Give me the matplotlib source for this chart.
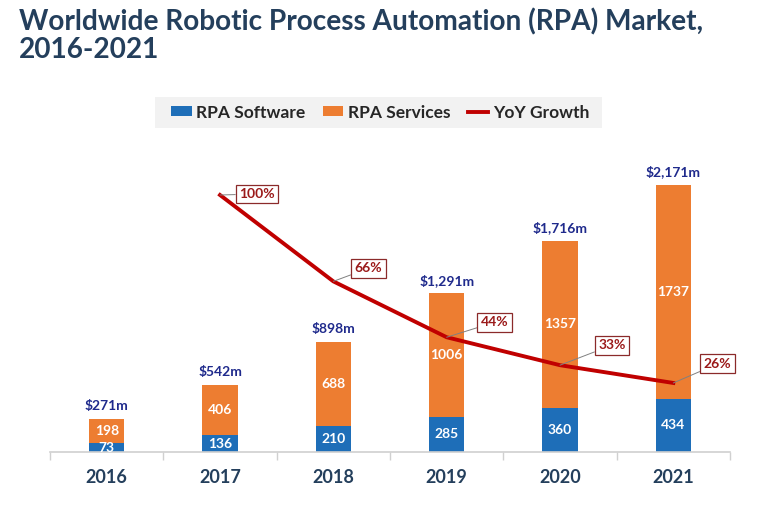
import numpy as np
import matplotlib.pyplot as plt
from matplotlib.patches import Rectangle

years = ['2016', '2017', '2018', '2019', '2020', '2021']
software = [73, 136, 210, 285, 360, 434]
services = [198, 406, 688, 1006, 1357, 1737]
totals = ['$271m', '$542m', '$898m', '$1,291m', '$1,716m', '$2,171m']
growth_years = ['2017', '2018', '2019', '2020', '2021']
growth = [100, 66, 44, 33, 26]
# label box offsets (pixels) for the growth callouts
growth_offsets = [(37, 1), (35, 13), (48, 15), (52, 20), (44, 19)]

blue = '#1E6EB8'
orange = '#ED7D31'
red = '#C00000'
navy = '#1F2A8C'
title_col = '#243F5C'
font = 'Lato'

W, H = 766, 505
fig = plt.figure(figsize=(W / 100, H / 100), dpi=100)
plt.rcParams['font.family'] = font

# axes placed in pixel terms
left, right, bottom, top = 50, 730, 452, 165
ax = fig.add_axes([left / W, 1 - bottom / H, (right - left) / W, (bottom - top) / H])

x = np.arange(len(years))
bw = 0.31
ax.bar(x, software, bw, color=blue, label='RPA Software')
ax.bar(x, services, bw, bottom=software, color=orange, label='RPA Services')

px_per_unit = 267 / 2171
ax.set_ylim(0, (bottom - top) / px_per_unit)
ax.set_xlim(-0.5, 5.5)

for i in range(len(years)):
    ax.text(x[i], software[i] / 2, str(software[i]), ha='center', va='center',
            color='white', fontsize=10, fontweight='bold')
    ax.text(x[i], software[i] + services[i] / 2, str(services[i]), ha='center', va='center',
            color='white', fontsize=10, fontweight='bold')
    ax.annotate(totals[i], (x[i], software[i] + services[i]), xytext=(0, 13),
                textcoords='offset pixels', ha='center', va='center',
                color=navy, fontsize=10, fontweight='bold')

ax.spines[['top', 'right', 'left']].set_visible(False)
ax.spines['bottom'].set_color('#D0D0D0')
ax.spines['bottom'].set_linewidth(1.2)
ax.set_yticks([])
ax.set_xticks(x)
ax.set_xticklabels(years, fontsize=13, fontweight='bold', color=title_col)
ax.tick_params(axis='x', length=0, pad=12)
ax.set_xticks(np.arange(-0.5, 6, 1), minor=True)
ax.tick_params(axis='x', which='minor', length=6, color='#D0D0D0', width=1)

# growth line on a second axis
ax2 = ax.twinx()
ax2.set_ylim(-3 / 2.54, (449 - top) / 2.54)
ax2.set_xlim(-0.5, 5.5)
gx = [years.index(y) for y in growth_years]
ax2.plot(gx, growth, color=red, lw=2.8, label='YoY Growth')
for xi, g, off in zip(gx, growth, growth_offsets):
    ax2.annotate(f'{g}%', (xi, g), xytext=off, textcoords='offset pixels',
                 ha='center', va='center', color='#9B1A1A', fontsize=10, fontweight='bold',
                 bbox=dict(boxstyle='square,pad=0.25', fc='white', ec='#8B2A2A', lw=0.9),
                 arrowprops=dict(arrowstyle='-', color='#808080', lw=0.7, shrinkA=0, shrinkB=0))
ax2.axis('off')

# legend with a grey band behind it
fig.patches.append(Rectangle((155 / W, 1 - 128 / H), (602 - 155) / W, 31 / H,
                             transform=fig.transFigure, fc='#F2F2F2', ec='none', zorder=0))
h1, l1 = ax.get_legend_handles_labels()
h2, l2 = ax2.get_legend_handles_labels()
leg = fig.legend(h1 + h2, l1 + l2, loc='center', bbox_to_anchor=(380 / W, 1 - 112.5 / H),
                 ncol=3, frameon=False, fontsize=12.5,
                 handlelength=1.2, handleheight=0.5, handletextpad=0.25, columnspacing=1.0,
                 borderpad=0.2)
for t in leg.get_texts():
    t.set_fontweight('bold')
    t.set_color('#262626')

fig.text(19 / W, 1 - 8 / H, 'Worldwide Robotic Process Automation (RPA) Market,\n2016-2021',
         ha='left', va='top', fontsize=20.2, fontweight='bold', color=title_col, linespacing=1.08)

fig.savefig('out.png', dpi=100, facecolor='white')
